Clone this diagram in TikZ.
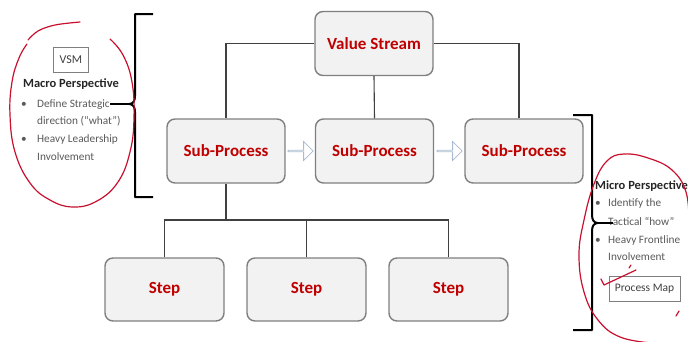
\documentclass[tikz,border=0pt]{standalone}
\usepackage{fontspec}
\setmainfont{Carlito}
\usetikzlibrary{shapes.arrows,calc}

\definecolor{boxred}{HTML}{C00000}
\definecolor{boxfill}{HTML}{F2F2F2}
\definecolor{boxline}{HTML}{7F7F7F}
\definecolor{wirec}{HTML}{404040}
\definecolor{penred}{HTML}{C8102E}
\definecolor{notegray}{HTML}{595959}
\definecolor{headgray}{HTML}{262626}
\definecolor{flowline}{HTML}{A9BCCF}

\begin{document}
\begin{tikzpicture}[x=1pt,y=-1pt,
  procbox/.style={draw=boxline, line width=1.4pt, fill=boxfill, rounded corners=8pt,
    minimum width=118pt, minimum height=64pt, inner sep=0pt,
    font=\fontsize{17}{20}\selectfont\bfseries, text=boxred},
  stepbox/.style={procbox, minimum width=119pt, minimum height=63pt},
  wire/.style={draw=wirec, line width=1.1pt},
  brace/.style={draw=black, line width=2pt, line join=round},
  flow/.style={single arrow, draw=flowline, fill=white, line width=0.8pt,
    minimum height=25pt, minimum width=19pt, single arrow head extend=4.5pt,
    inner sep=0pt},
  tagbox/.style={draw=boxline, line width=0.8pt, fill=white, inner sep=0pt,
    font=\fontsize{12}{14}\selectfont, text=wirec},
  heading/.style={font=\fontsize{12.5}{14}\selectfont\bfseries, text=headgray, inner sep=0pt},
  bullettext/.style={anchor=base west, inner sep=0pt,
    font=\fontsize{11.3}{13}\selectfont, text=notegray},
  pen/.style={draw=penred, line width=1.2pt, line cap=round, line join=round}
]
\useasboundingbox (0,0) rectangle (688,341);

% process hierarchy
\node[procbox] (vs) at (374,43.5) {Value Stream};
\node[procbox] (sp1) at (226,151) {Sub-Process};
\node[procbox] (sp2) at (374.5,151) {Sub-Process};
\node[procbox] (sp3) at (524,151) {Sub-Process};
\node[stepbox] (st1) at (164.5,289.5) {Step};
\node[stepbox] (st2) at (306.5,289.5) {Step};
\node[stepbox] (st3) at (448.5,289.5) {Step};

% tree connectors
\draw[wire] (vs.west) -| (sp1.north);
\draw[wire] (vs.east) -| ([xshift=-5pt]sp3.north);
\draw[wire] (vs.south) -- (sp2.north);
\coordinate (bus) at (226,220);
\draw[wire] (sp1.south) -- (bus);
\draw[wire] (st1.north) |- (bus) -| (st3.north);
\draw[wire] (st2.north) -- (st2.north |- bus);

% hollow flow arrows between sub-processes
\node[flow] (f1) at ($(sp1.east)!0.5!(sp2.west)$) {};
\node[flow] (f2) at ($(sp2.east)!0.5!(sp3.west)$) {};

% macro side
\node[tagbox, minimum width=35pt, minimum height=25pt] (vsm) at (71,60) {VSM};
\node[heading] (macro) at (71,84) {Macro Perspective};
\node[bullettext] (mb1) at (21,107) {•};
\node[bullettext] (m1) at (37,107) {Define Strategic};
\node[bullettext] (m2) at (37,124) {direction (“what”)};
\node[bullettext] (mb2) at (21,142.5) {•};
\node[bullettext] (m3) at (37,142.5) {Heavy Leadership};
\node[bullettext] (m4) at (37,160.5) {Involvement};

% left curly brace
\coordinate (lb) at (129,104);
\draw[brace] (153,14) -- (135,14) -- (135,96)
  .. controls (135,101) and (133,104) .. (lb)
  .. controls (133,104) and (135,107) .. (135,112) -- (135,197) -- (153,197);
\draw[brace] (m1.east |- lb) ++(0.5pt,0) -- (lb);

% micro side
\node[heading, anchor=base west] (micro) at (595,189) {Micro Perspective};
\node[bullettext] (rb1) at (595,206.5) {•};
\node[bullettext] (r1) at (608,206.5) {Identify the};
\node[bullettext] (r2) at (608,225.5) {Tactical “how”};
\node[bullettext] (rb2) at (595,243.5) {•};
\node[bullettext] (r3) at (608,243.5) {Heavy Frontline};
\node[bullettext] (r4) at (608,260.5) {Involvement};
\node[tagbox, minimum width=71pt, minimum height=25pt, font=\fontsize{11.5}{13}\selectfont] (pmap) at (644.5,288.5) {Process Map};

% right curly brace
\coordinate (rb) at (598,223);
\draw[brace] (573,115) -- (592,115) -- (592,215)
  .. controls (592,220) and (594,223) .. (rb)
  .. controls (594,223) and (592,226) .. (592,231) -- (592,330) -- (573,330);
\draw[brace] (rb) -- (613,223);

% hand-drawn red marks
\draw[pen] plot[smooth, tension=0.7] coordinates {
  (110,39) (123,55) (132,82) (134,118) (130,152) (118,182) (97,201) (73,207)
  (50,200) (30,183) (15,152) (10,115) (12,82) (19,58) (27,44)};
\draw[pen] plot[smooth, tension=0.6] coordinates {
  (28,40) (38,31) (55,25) (80,22)};
\draw[pen] plot[smooth, tension=0.7] coordinates {
  (689,222) (686,192) (672,170) (648,158) (624,154) (607,161) (594,184)
  (584,220) (579,255) (584,292) (598,320) (620,337) (652,343)};
\draw[pen] (601,279) -- (604,285) -- (636,270);
\draw[pen] (629,268) -- (631,265);
\draw[pen] (676,316) -- (679,311);
\end{tikzpicture}
\end{document}
